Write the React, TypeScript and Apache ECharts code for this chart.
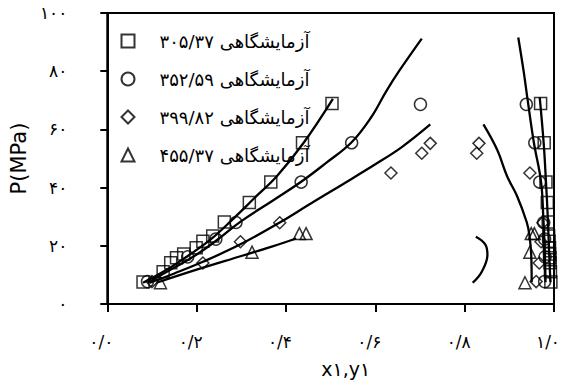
import React, { useEffect, useRef } from "react";
import * as echarts from "echarts";

// Tick labels (Persian digits)
const xTickLabels = ["۰/۰", "۰/۲", "۰/۴", "۰/۶", "۰/۸", "۱/۰"];
const yTickLabels = ["۰", "۲۰", "۴۰", "۶۰", "۸۰", "۱۰۰"];

const legendNames = [
  "آزمایشگاهی ۳۰۵/۳۷",
  "آزمایشگاهی ۳۵۲/۵۹",
  "آزمایشگاهی ۳۹۹/۸۲",
  "آزمایشگاهی ۴۵۵/۳۷",
];

// Experimental data: pressure, liquid x1, vapor y1
const p305 = [7.6, 11.1, 14.2, 15.9, 17.2, 19.3, 21.6, 23.4, 28.2, 34.9, 41.9, 55.4, 68.9];
const x305 = [0.08, 0.125, 0.142, 0.155, 0.171, 0.199, 0.214, 0.236, 0.262, 0.318, 0.366, 0.437, 0.503];
const y305 = [0.993, 0.992, 0.991, 0.991, 0.99, 0.99, 0.989, 0.988, 0.987, 0.985, 0.982, 0.978, 0.97];

const p352 = [7.7, 16.2, 22.3, 28.0, 41.9, 55.4, 68.6];
const x352 = [0.09, 0.18, 0.243, 0.288, 0.434, 0.547, 0.701];
const y352 = [0.979, 0.98, 0.979, 0.977, 0.968, 0.957, 0.938];

const p399 = [7.7, 14.1, 21.4, 27.9, 45.0, 51.8, 55.2];
const x399 = [0.1, 0.214, 0.298, 0.386, 0.635, 0.704, 0.723];
const y399 = [0.96, 0.967, 0.971, 0.975, 0.946, 0.827, 0.832];

const p455 = [7.3, 17.8, 24.2, 24.2];
const x455 = [0.119, 0.324, 0.43, 0.445];
const y455 = [0.935, 0.946, 0.949, 0.956];

// Model curves (x, P)
const liq305x = [0.08, 0.13, 0.18, 0.23, 0.28, 0.33, 0.38, 0.44, 0.505];
const liq305p = [7.3, 11.5, 16.5, 22, 29, 36.5, 44, 55.5, 70.5];
const vap305x = [0.968, 0.977, 0.982, 0.986, 0.989, 0.992];
const vap305p = [71, 55, 42, 30, 18, 7.5];

const liq352x = [0.09, 0.15, 0.2, 0.25, 0.3, 0.37, 0.434, 0.49, 0.547, 0.59, 0.624, 0.653, 0.704];
const liq352p = [7.3, 12.5, 17, 22.5, 28.5, 35.5, 42, 48.5, 55.6, 64, 73, 80, 91.2];
const vap352x = [0.92, 0.932, 0.942, 0.955, 0.971, 0.976, 0.979, 0.981];
const vap352p = [91.6, 80, 69, 55.4, 42, 30, 20, 7.5];

const liq399x = [0.095, 0.15, 0.214, 0.298, 0.386, 0.45, 0.52, 0.6, 0.66, 0.723];
const liq399p = [7.3, 10.5, 14.5, 20.5, 28, 34, 40.5, 48, 54, 61.7];
const vap399x = [0.842, 0.873, 0.895, 0.917, 0.939, 0.945, 0.949, 0.95];
const vap399p = [61.7, 52.9, 43.9, 37.2, 28.1, 23.6, 16.9, 7.5];

const liq455x = [0.11, 0.2, 0.3, 0.37, 0.423];
const liq455p = [7.3, 11.8, 16.5, 19.8, 22.5];
const vap455x = [0.825, 0.846, 0.851, 0.838, 0.818];
const vap455p = [23.1, 20.5, 16.9, 11, 7.3];

const symbols = ["rect", "circle", "diamond", "triangle"];

const zip = (xs: number[], ps: number[]) => xs.map((x, i) => [x, ps[i]]);

export default function App() {
  const ref = useRef<HTMLDivElement>(null);
  useEffect(() => {
    if (!ref.current) return;
    const chart = echarts.init(ref.current, undefined, { renderer: "svg" });
    const expSets = [
      [p305, x305, y305],
      [p352, x352, y352],
      [p399, x399, y399],
      [p455, x455, y455],
    ];
    const scatterSeries = expSets.map((s, i) => ({
      name: legendNames[i],
      type: "scatter",
      symbol: symbols[i],
      symbolSize: 12,
      itemStyle: { color: "rgba(255,255,255,0)", borderColor: "#000", borderWidth: 1.5 },
      data: [...zip(s[1] as number[], s[0] as number[]), ...zip(s[2] as number[], s[0] as number[])],
      z: 3,
    }));
    const curves = [
      [liq305x, liq305p],
      [vap305x, vap305p],
      [liq352x, liq352p],
      [vap352x, vap352p],
      [liq399x, liq399p],
      [vap399x, vap399p],
      [liq455x, liq455p],
      [vap455x, vap455p],
    ];
    const lineSeries = curves.map((c) => ({
      type: "line",
      data: zip(c[0], c[1]),
      smooth: 0.4,
      showSymbol: false,
      symbol: "none",
      lineStyle: { color: "#000", width: 2.3 },
      z: 2,
    }));
    chart.setOption({
      animation: false,
      grid: {
        left: 102.5,
        right: 5,
        top: 13,
        bottom: 74.5,
        show: true,
        borderColor: "#000",
        borderWidth: 2,
      },
      legend: {
        data: legendNames,
        orient: "vertical",
        left: 115.5,
        top: 27,
        itemWidth: 13,
        itemHeight: 13,
        itemGap: 20,
        textStyle: {
          fontSize: 18,
          color: "#000",
          fontFamily: "DejaVu Sans",
          lineHeight: 15,
          padding: [0, 0, 0, 20],
        },
        selectedMode: false,
      },
      xAxis: {
        type: "value",
        min: 0,
        max: 1,
        interval: 0.2,
        name: "x۱,y۱",
        nameLocation: "middle",
        nameGap: 55,
        nameTextStyle: { fontSize: 19, color: "#000", fontFamily: "DejaVu Sans", padding: [0, 0, 0, 30] },
        axisLine: { lineStyle: { color: "#000", width: 2 } },
        axisTick: { show: true, inside: false, length: 8, lineStyle: { color: "#000", width: 2 } },
        axisLabel: {
          margin: 29,
          fontSize: 17,
          color: "#000",
          fontFamily: "DejaVu Sans",
          padding: [0, 12, 0, 0],
          formatter: (v: number) => xTickLabels[Math.round(v / 0.2)] ?? "",
        },
        splitLine: { show: false },
      },
      yAxis: {
        type: "value",
        min: 0,
        max: 100,
        interval: 20,
        name: "P(MPa)",
        nameLocation: "middle",
        nameGap: 64,
        nameRotate: 90,
        nameTextStyle: { fontSize: 21, color: "#000", fontFamily: "DejaVu Sans" },
        axisLine: { lineStyle: { color: "#000", width: 2 } },
        axisTick: { show: true, inside: false, length: 7, lineStyle: { color: "#000", width: 2 } },
        axisLabel: {
          margin: 40,
          fontSize: 17,
          color: "#000",
          fontFamily: "DejaVu Sans",
          formatter: (v: number) => yTickLabels[Math.round(v / 20)] ?? "",
        },
        splitLine: { show: false },
      },
      series: [...lineSeries, ...scatterSeries],
    });
    return () => chart.dispose();
  }, []);
  return (
    <div
      ref={ref}
      style={{ position: "absolute", left: 0, top: 0, width: 563, height: 383, background: "#fff" }}
    />
  );
}
